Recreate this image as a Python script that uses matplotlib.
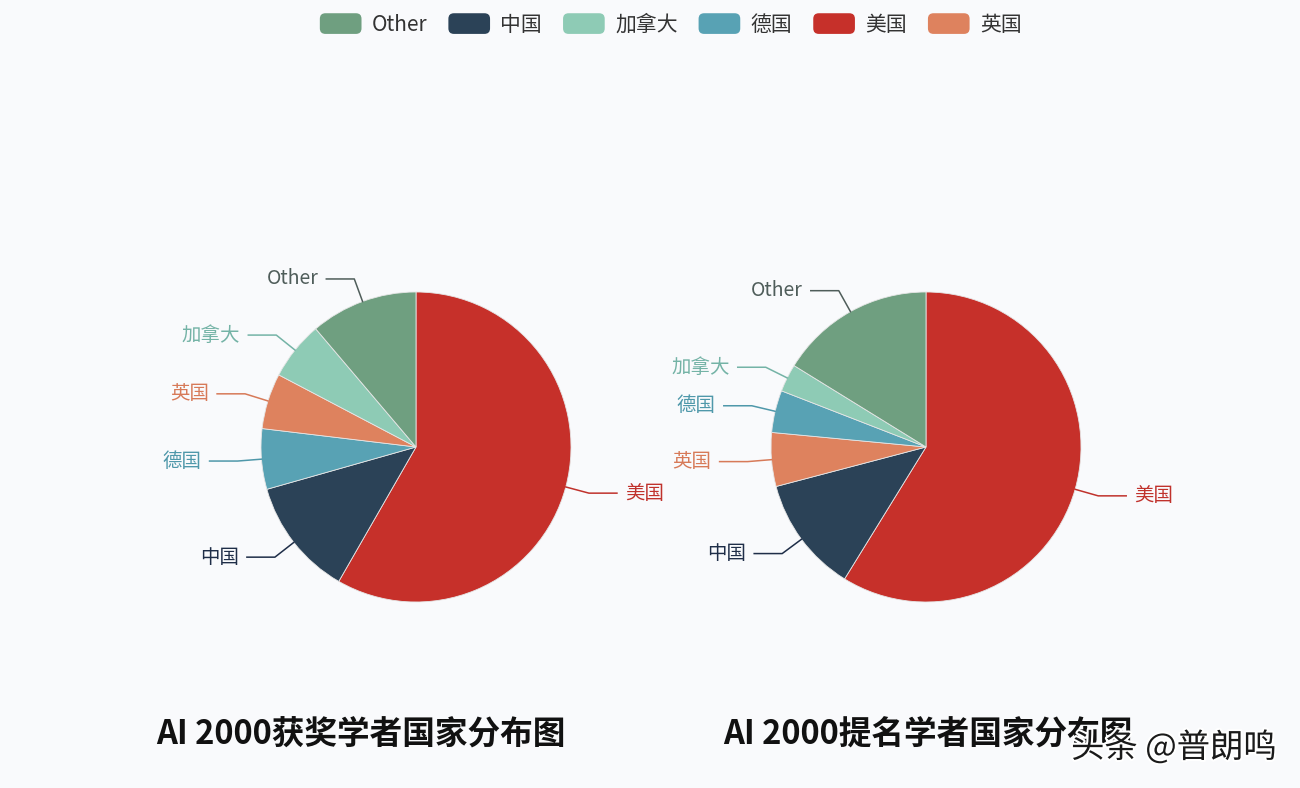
import numpy as np
import matplotlib
matplotlib.use("Agg")
import matplotlib.pyplot as plt
import matplotlib.patheffects as pe
from matplotlib.patches import Patch, FancyBboxPatch
from matplotlib.legend_handler import HandlerPatch

plt.rcParams['font.family'] = ['Noto Sans CJK SC', 'DejaVu Sans']

# 数据（从图中估计的百分比）
left_names = ['美国', '中国', '德国', '英国', '加拿大', 'Other']
left_values = [58.3, 12.3, 6.3, 5.8, 6.1, 11.2]
right_names = ['美国', '中国', '英国', '德国', '加拿大', 'Other']
right_values = [58.8, 12.1, 5.6, 4.4, 2.9, 16.2]
titles = ['AI 2000获奖学者国家分布图', 'AI 2000提名学者国家分布图']
legend_order = ['Other', '中国', '加拿大', '德国', '美国', '英国']

colors = {'Other': '#6f9f80', '中国': '#2b4257', '加拿大': '#8ecbb5',
          '德国': '#58a2b4', '美国': '#c6302a', '英国': '#de825e'}
label_colors = {'Other': '#4f5d5a', '中国': '#1f2e48', '加拿大': '#74b3a6',
                '德国': '#4f98aa', '美国': '#c0322c', '英国': '#d77a58'}

W, H = 1300, 788
fig = plt.figure(figsize=(13, 7.88), dpi=100, facecolor='#f9fafc')
ax = fig.add_axes([0, 0, 1, 1])
ax.set_facecolor('#f9fafc')

R = 155


def draw_pie(cx, cy, names, values, title, title_x):
    wedges, _ = ax.pie(values, colors=[colors[n] for n in names], startangle=90,
                       counterclock=False, radius=R, center=(cx, H - cy),
                       wedgeprops=dict(edgecolor='#e6e6e6', linewidth=0.6),
                       frame=True)
    # 标签和引导线
    for w, n in zip(wedges, names):
        ang = np.deg2rad((w.theta1 + w.theta2) / 2)
        dx, dy = np.cos(ang), np.sin(ang)
        x0, y0 = cx + R * dx, H - cy + R * dy
        x1, y1 = cx + (R + 24) * dx, H - cy + (R + 24) * dy
        side = 1 if dx >= 0 else -1
        x2 = x1 + side * 28
        c = label_colors[n]
        ax.plot([x0, x1, x2], [y0, y1, y1], color=c, lw=1.1)
        ax.text(x2 + side * 8, y1, n, color=c, fontsize=14,
                ha='left' if side > 0 else 'right', va='center')
    ax.text(title_x, H - 735, title, fontsize=23.5, fontweight='bold',
            color='#111111', ha='center', va='center')
    return wedges


draw_pie(416, 447, left_names, left_values, titles[0], 361)
draw_pie(926, 447, right_names, right_values, titles[1], 928)
ax.set_xlim(0, W)
ax.set_ylim(0, H)
ax.set_aspect('equal')
ax.axis('off')


# 圆角图例色块
class RoundHandler(HandlerPatch):
    def create_artists(self, legend, orig_handle, xdescent, ydescent,
                       width, height, fontsize, trans):
        p = FancyBboxPatch((-xdescent, -ydescent), width, height,
                           boxstyle='round,pad=0,rounding_size=4',
                           facecolor=orig_handle.get_facecolor(), edgecolor='none',
                           transform=trans)
        return [p]


handles = [Patch(facecolor=colors[n], edgecolor='none') for n in legend_order]
fig.legend(handles, legend_order, loc='upper center', bbox_to_anchor=(0.516, 1.007),
           ncol=6, frameon=False, fontsize=15, handlelength=2.0, handleheight=1.15,
           columnspacing=1.0, handletextpad=0.5, labelcolor='#333333',
           handler_map={Patch: RoundHandler()})

# 水印
ax.text(1174, H - 748, '头条 @普朗鸣', fontsize=24, color='#1a1a1a',
        ha='center', va='center', zorder=10,
        path_effects=[pe.withStroke(linewidth=3, foreground='white')])

fig.savefig('out.png', dpi=100, facecolor=fig.get_facecolor())
